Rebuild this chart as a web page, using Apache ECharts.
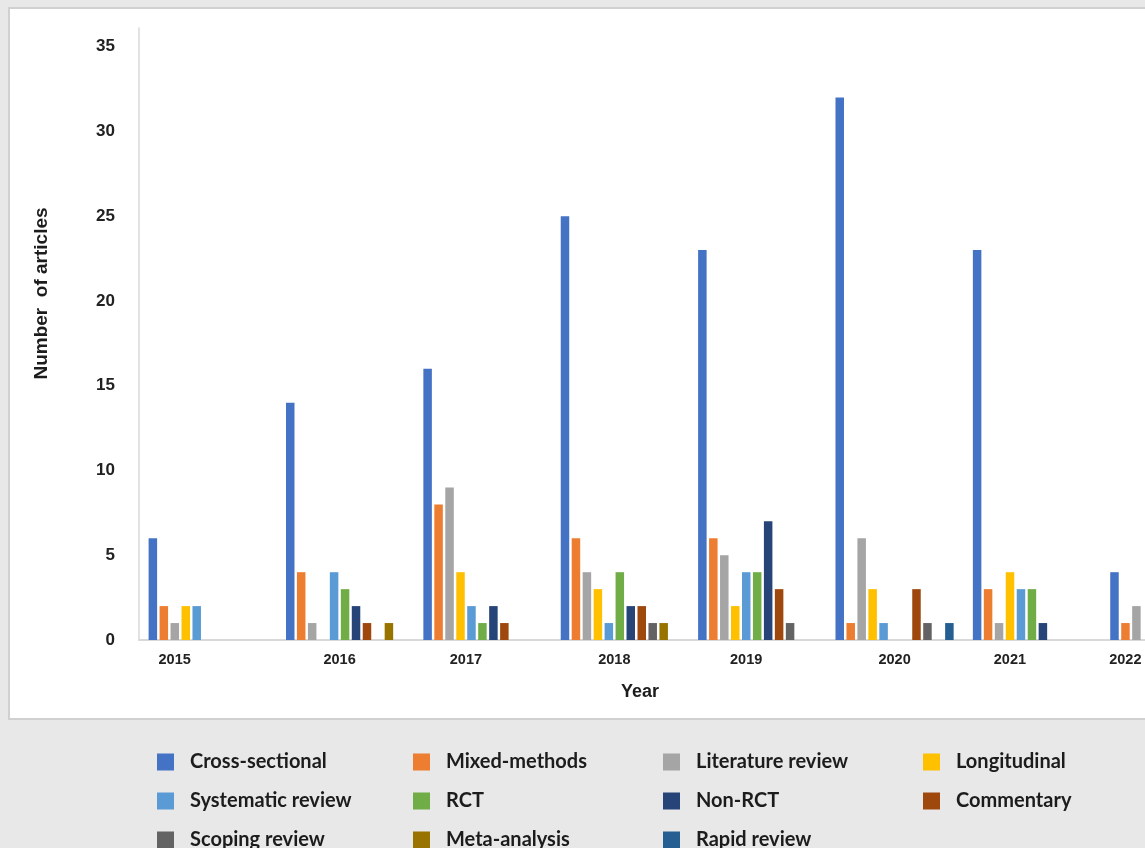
<!DOCTYPE html>
<html>
<head>
<meta charset="utf-8">
<script src="https://cdn.jsdelivr.net/npm/echarts@6/dist/echarts.min.js"></script>
<style>
  html, body { margin: 0; padding: 0; overflow: hidden; background: #e7e8e7; }
  #panel { position: absolute; left: 8px; top: 7px; width: 1300px; height: 709px; background: #fff; border: 2px solid #d0d0d0; }
  #chart { position: absolute; left: 0; top: 0; width: 1260px; height: 900px; }
</style>
</head>
<body>
<div id="panel"></div>
<div id="chart"></div>
<script>
const years = ['2015', '2016', '2017', '2018', '2019', '2020', '2021', '2022'];

const seriesNames = [
  'Cross-sectional', 'Mixed-methods', 'Literature review', 'Longitudinal',
  'Systematic review', 'RCT', 'Non-RCT', 'Commentary',
  'Scoping review', 'Meta-analysis', 'Rapid review'
];

const crossSectional   = [6, 14, 16, 25, 23, 32, 23, 4];
const mixedMethods     = [2, 4, 8, 6, 6, 1, 3, 1];
const literatureReview = [1, 1, 9, 4, 5, 6, 1, 2];
const longitudinal     = [2, 0, 4, 3, 2, 3, 4, 0];
const systematicReview = [2, 4, 2, 1, 4, 1, 3, 0];
const rct              = [0, 3, 1, 4, 4, 0, 3, 0];
const nonRct           = [0, 2, 2, 2, 7, 0, 1, 0];
const commentary       = [0, 1, 1, 2, 3, 3, 0, 0];
const scopingReview    = [0, 0, 0, 1, 1, 1, 0, 0];
const metaAnalysis     = [0, 1, 0, 1, 0, 0, 0, 0];
const rapidReview      = [0, 0, 0, 0, 0, 1, 0, 0];

const yTicks = [0, 5, 10, 15, 20, 25, 30, 35];

const allSeries = [
  crossSectional, mixedMethods, literatureReview, longitudinal,
  systematicReview, rct, nonRct, commentary,
  scopingReview, metaAnalysis, rapidReview
];

const colors = [
  '#4472c4', '#ed7d31', '#a5a5a5', '#ffc000', '#5b9bd5', '#70ad47',
  '#264478', '#9e480e', '#636363', '#997300', '#255e91'
];

const chart = echarts.init(document.getElementById('chart'));

// year labels sit under the non-empty bars of each group
const barW = 8.5, barStep = 11;
const rich = {};
years.forEach((y, i) => {
  const idx = allSeries.map((s, k) => (s[i] > 0 ? k : -1)).filter(k => k >= 0);
  const mid = (idx[0] + idx[idx.length - 1]) / 2;
  const shift = (mid - (seriesNames.length - 1) / 2) * barStep;
  rich['y' + i] = {
    fontFamily: 'Liberation Sans', fontWeight: 'bold', fontSize: 14.5, color: '#222',
    padding: shift < 0 ? [0, -2 * shift, 0, 0] : [0, 0, 0, 2 * shift]
  };
});

const legendText = {
  fontFamily: 'Lato', fontWeight: 'bold', fontSize: 20,
  color: '#1c1c1c', lineHeight: 17, padding: [0, 0, 0, 11]
};
const legendCols = [
  [seriesNames[0], seriesNames[4], seriesNames[8]],
  [seriesNames[1], seriesNames[5], seriesNames[9]],
  [seriesNames[2], seriesNames[6], seriesNames[10]],
  [seriesNames[3], seriesNames[7]]
];
const legendLeft = [157, 413, 663, 923];

const option = {
  animation: false,
  color: colors,
  grid: { left: 139, right: 22, top: 28, bottom: 260 },
  legend: legendCols.map((col, c) => ({
    data: col,
    orient: 'vertical',
    left: legendLeft[c],
    top: 752,
    padding: 0,
    itemWidth: 17,
    itemHeight: 17,
    itemGap: 19,
    icon: 'rect',
    selectedMode: false,
    textStyle: legendText
  })),
  xAxis: {
    type: 'category',
    data: years,
    name: 'Year',
    nameLocation: 'middle',
    nameGap: 43,
    nameTextStyle: {
      fontFamily: 'Liberation Sans', fontWeight: 'bold', fontSize: 18, color: '#1c1c1c',
      padding: [0, 97, 0, 0]
    },
    axisLine: { lineStyle: { color: '#d9d9d9', width: 2 } },
    axisTick: { show: false },
    axisLabel: {
      margin: 12,
      formatter: (v, i) => '{y' + i + '|' + v + '}',
      rich: rich
    }
  },
  yAxis: {
    type: 'value',
    min: 0,
    max: 36.1,
    interval: 5,
    name: 'Number  of articles',
    nameLocation: 'middle',
    nameGap: 88,
    nameRotate: 90,
    nameTextStyle: {
      fontFamily: 'Liberation Sans', fontWeight: 'bold', fontSize: 19, color: '#1c1c1c',
      padding: [0, 0, 0, 81]
    },
    splitLine: { show: false },
    axisLine: { show: true, lineStyle: { color: '#d9d9d9', width: 1.5 } },
    axisTick: { show: false },
    axisLabel: {
      margin: 24,
      fontFamily: 'Liberation Sans', fontWeight: 'bold', fontSize: 17, color: '#222',
      formatter: v => (yTicks.includes(v) ? String(v) : '')
    }
  },
  series: seriesNames.map((name, k) => ({
    name: name,
    type: 'bar',
    data: allSeries[k],
    barWidth: barW,
    barGap: '29%',
    itemStyle: { color: colors[k] }
  }))
};

chart.setOption(option);
</script>
</body>
</html>
